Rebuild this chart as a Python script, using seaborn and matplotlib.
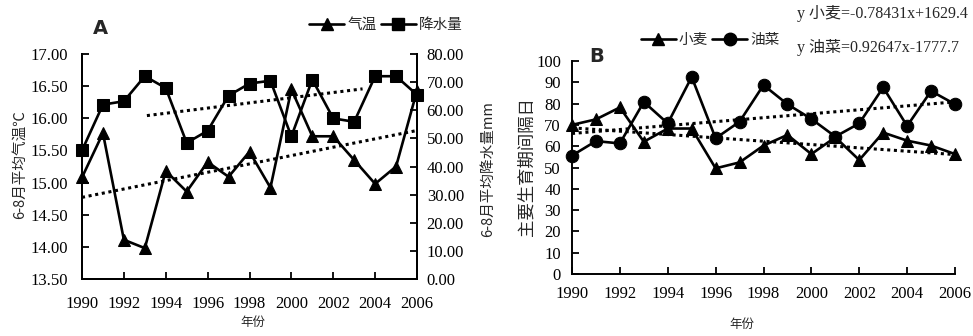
import numpy as np
import pandas as pd
import matplotlib
matplotlib.use("Agg")
import matplotlib.pyplot as plt
import seaborn as sns
from matplotlib.lines import Line2D

sns.set_style("ticks")
plt.rcParams['font.family'] = ['Liberation Serif', 'Noto Sans CJK SC', 'DejaVu Sans']
plt.rcParams['axes.unicode_minus'] = False

# ---------------- data ----------------
years = list(range(1990, 2007))
temp = [15.08, 15.77, 14.11, 13.98, 15.18, 14.86, 15.32, 15.09, 15.48, 14.92,
        16.45, 15.72, 15.72, 15.35, 14.98, 15.25, 16.43]
precip = [45.7, 62.0, 63.2, 72.1, 67.9, 48.4, 52.7, 65.2, 69.5, 70.5,
          50.7, 70.9, 57.1, 55.9, 72.1, 72.1, 65.5]
temp_trend_x = [1990, 2006]
temp_trend_y = [14.77, 15.81]
precip_trend_x = [1993.1, 2003.4]
precip_trend_y = [58.1, 67.6]

wheat = [70.0, 72.6, 78.2, 62.1, 68.3, 68.3, 49.6, 52.4, 60.3, 65.3,
         56.3, 64.2, 53.5, 66.4, 62.6, 60.3, 56.3]
rape = [55.6, 62.4, 61.3, 80.8, 70.7, 92.5, 63.7, 71.5, 88.7, 79.7,
        72.8, 64.5, 70.7, 87.6, 69.5, 85.9, 79.7]
wheat_slope, wheat_icpt = -0.78431, 1629.4
rape_slope, rape_icpt = 0.92647, -1777.7

xticks = list(range(1990, 2007, 2))
temp_ticks = [13.5, 14.0, 14.5, 15.0, 15.5, 16.0, 16.5, 17.0]
precip_ticks = [0, 10, 20, 30, 40, 50, 60, 70, 80]
b_ticks = list(range(0, 101, 10))

dfA = pd.DataFrame({"year": years, "temp": temp, "precip": precip})
dfB = pd.DataFrame({"year": years, "wheat": wheat, "rape": rape})

W, H = 973, 336
fig = plt.figure(figsize=(W / 100, H / 100), dpi=100)
fig.patch.set_facecolor("white")

cjk = ['Noto Sans CJK SC', 'DejaVu Sans']
mix = ['Liberation Serif', 'Noto Sans CJK SC', 'DejaVu Sans']
tick_fs = 12
lw = 1.9
dot = (0, (1, 1.2))

def style_axis(ax):
    ax.tick_params(direction='in', length=5, width=1.3, labelsize=tick_fs, colors='black')
    for s in ax.spines.values():
        s.set_linewidth(1.4)
        s.set_color('black')

# ---------------- Chart A ----------------
axA = fig.add_axes([82 / W, 1 - 279 / H, (417 - 82) / W, (279 - 54) / H])
axA2 = axA.twinx()
sns.lineplot(data=dfA, x="year", y="temp", ax=axA, color="black", marker="^",
             markersize=8, linewidth=lw, markeredgecolor="black", clip_on=False)
sns.lineplot(data=dfA, x="year", y="precip", ax=axA2, color="black", marker="s",
             markersize=8, linewidth=lw, markeredgecolor="black", clip_on=False)
axA.plot(temp_trend_x, temp_trend_y, color="black", linestyle=dot, linewidth=2.2)
axA2.plot(precip_trend_x, precip_trend_y, color="black", linestyle=dot, linewidth=2.2)
axA.set_xlim(1990, 2006)
axA.set_ylim(13.5, 17.0)
axA2.set_ylim(0, 80)
axA.set_xticks(xticks)
axA.set_xticklabels([str(t) for t in xticks])
axA.set_yticks(temp_ticks)
axA.set_yticklabels([f"{t:.2f}" for t in temp_ticks])
axA2.set_yticks(precip_ticks)
axA2.set_yticklabels([f"{t:.2f}" for t in precip_ticks])
axA.set_xlabel("")
axA.set_ylabel("")
axA2.set_ylabel("")
for ax in (axA, axA2):
    style_axis(ax)
    ax.spines['top'].set_visible(False)
axA.tick_params(axis='x', pad=12)
axA.tick_params(axis='y', pad=10)
axA2.tick_params(axis='y', pad=7)

fig.text(20 / W, 1 - 165 / H, "6-8月平均气温℃", rotation=90, ha='center', va='center',
         fontsize=10.5, family=cjk)
fig.text(488 / W, 1 - 169 / H, "6-8月平均降水量mm", rotation=90, ha='center', va='center',
         fontsize=10.5, family=cjk)
fig.text(253 / W, 1 - 322 / H, "年份", ha='center', va='center', fontsize=9, family=cjk)
fig.text(100 / W, 1 - 28 / H, "A", ha='center', va='center', fontsize=14,
         fontweight='bold', family=['DejaVu Sans'])

hA = [Line2D([], [], color='black', marker='^', markersize=8, linewidth=lw),
      Line2D([], [], color='black', marker='s', markersize=8, linewidth=lw)]
fig.legend(hA, ["气温", "降水量"], loc='center', bbox_to_anchor=(386 / W, 1 - 25 / H),
           ncol=2, frameon=False, prop={'family': cjk, 'size': 10.5},
           handlelength=2.4, handletextpad=0.2, columnspacing=0.3, numpoints=1)

# ---------------- Chart B ----------------
axB = fig.add_axes([572 / W, 1 - 274 / H, (955 - 572) / W, (274 - 61) / H])
sns.lineplot(data=dfB, x="year", y="wheat", ax=axB, color="black", marker="^",
             markersize=8.5, linewidth=lw, markeredgecolor="black", clip_on=False)
sns.lineplot(data=dfB, x="year", y="rape", ax=axB, color="black", marker="o",
             markersize=9, linewidth=lw, markeredgecolor="black", clip_on=False)
yrs = np.array([years[0], years[-1]])
axB.plot(yrs, wheat_slope * yrs + wheat_icpt, color="black", linestyle=dot, linewidth=2.2)
axB.plot(yrs, rape_slope * yrs + rape_icpt, color="black", linestyle=dot, linewidth=2.2)
axB.set_xlim(1990, 2006)
axB.set_ylim(0, 100)
axB.set_xticks(xticks)
axB.set_xticklabels([str(t) for t in xticks])
axB.set_yticks(b_ticks)
axB.set_yticklabels([str(t) for t in b_ticks])
axB.set_xlabel("")
axB.set_ylabel("")
style_axis(axB)
axB.spines['top'].set_visible(False)
axB.spines['right'].set_visible(False)
axB.tick_params(axis='x', pad=9)
axB.tick_params(axis='y', pad=8)

fig.text(527 / W, 1 - 167 / H, "主要生育期间隔日", rotation=90, ha='center', va='center',
         fontsize=12.5, family=cjk)
fig.text(742 / W, 1 - 324 / H, "年份", ha='center', va='center', fontsize=9, family=cjk)
fig.text(597 / W, 1 - 57 / H, "B", ha='center', va='center', fontsize=14,
         fontweight='bold', family=['DejaVu Sans'])

hB = [Line2D([], [], color='black', marker='^', markersize=8.5, linewidth=lw),
      Line2D([], [], color='black', marker='o', markersize=9, linewidth=lw)]
fig.legend(hB, ["小麦", "油菜"], loc='center', bbox_to_anchor=(710 / W, 1 - 40 / H),
           ncol=2, frameon=False, prop={'family': cjk, 'size': 10.5},
           handlelength=2.4, handletextpad=0.2, columnspacing=0.3, numpoints=1)

fig.text(797 / W, 1 - 13 / H, f"y 小麦={wheat_slope}x+{wheat_icpt}", ha='left', va='center',
         fontsize=11.5, family=mix)
fig.text(797 / W, 1 - 47 / H, f"y 油菜={rape_slope}x{rape_icpt}", ha='left', va='center',
         fontsize=11.5, family=mix)

fig.savefig("out.png", dpi=100, facecolor="white")
